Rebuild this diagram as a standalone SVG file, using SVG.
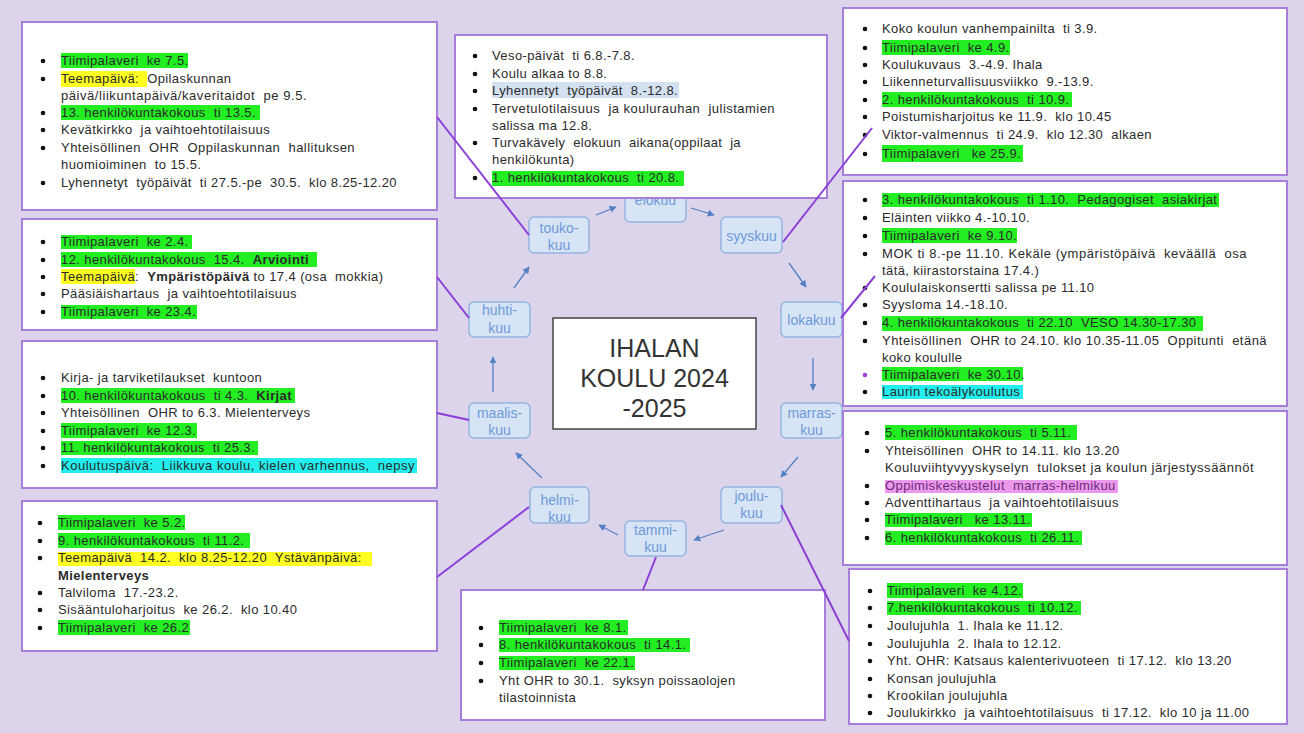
<svg xmlns="http://www.w3.org/2000/svg" width="1304" height="733" viewBox="0 0 1304 733" xml:space="preserve">
<defs>
<style>
.box{fill:#fff;stroke:#a77fdb;stroke-width:2}
.t{font-family:"Liberation Sans",Arial,sans-serif;font-size:13px;fill:#2b2b2b;letter-spacing:0.4px;white-space:pre}
.bd{font-weight:bold}
.g{fill:#22ee22}
.y{fill:#ffff22}
.c{fill:#22eeee}
.lb{fill:#d3e1f1}
.pk{fill:#ec98ec}
.dot{fill:#111}
.node{fill:#d6e4f6;stroke:#95b4e0;stroke-width:1.5}
.nt{font-family:"Liberation Sans",Arial,sans-serif;font-size:14px;fill:#6f9ad8;text-anchor:middle}
.conn{stroke:#8b3fd8;stroke-width:2;fill:none}
.arr{stroke:#5580c4;stroke-width:1.3;fill:none;marker-end:url(#ah)}
.ct{font-family:"Liberation Sans",Arial,sans-serif;font-size:25px;fill:#333;text-anchor:middle}
</style>
<marker id="ah" viewBox="0 0 10 10" refX="9" refY="5" markerWidth="7" markerHeight="7" orient="auto" markerUnits="userSpaceOnUse">
<path d="M0,0 L10,5 L0,10 z" fill="#5580c4"/>
</marker>
</defs>
<rect x="0" y="0" width="1304" height="733" fill="#dcd4ea"/>

<g id="months">
<g id="n-elokuu"><rect class="node" x="625" y="182" width="61" height="40" rx="5"/><text class="nt" x="655.5" y="205">elokuu</text></g>
<g id="n-syyskuu"><rect class="node" x="721" y="217" width="61" height="36" rx="5"/><text class="nt" x="751.5" y="241">syyskuu</text></g>
<g id="n-lokakuu"><rect class="node" x="781" y="302" width="61" height="35" rx="5"/><text class="nt" x="811.5" y="325">lokakuu</text></g>
<g id="n-marraskuu"><rect class="node" x="781" y="403" width="61" height="35" rx="5"/><text class="nt" x="811.5" y="418">marras-</text><text class="nt" x="811.5" y="435">kuu</text></g>
<g id="n-joulukuu"><rect class="node" x="721" y="487" width="61" height="36" rx="5"/><text class="nt" x="751.5" y="501">joulu-</text><text class="nt" x="751.5" y="518">kuu</text></g>
<g id="n-tammikuu"><rect class="node" x="625" y="521" width="61" height="35" rx="5"/><text class="nt" x="655.5" y="535">tammi-</text><text class="nt" x="655.5" y="552">kuu</text></g>
<g id="n-helmikuu"><rect class="node" x="530" y="487" width="59" height="36" rx="5"/><text class="nt" x="559.5" y="505">helmi-</text><text class="nt" x="559.5" y="522">kuu</text></g>
<g id="n-maaliskuu"><rect class="node" x="469" y="403" width="61" height="35" rx="5"/><text class="nt" x="499.5" y="418">maalis-</text><text class="nt" x="499.5" y="435">kuu</text></g>
<g id="n-huhtikuu"><rect class="node" x="469" y="302" width="61" height="35" rx="5"/><text class="nt" x="499.5" y="315">huhti-</text><text class="nt" x="499.5" y="333">kuu</text></g>
<g id="n-toukokuu"><rect class="node" x="529" y="217" width="60" height="36" rx="5"/><text class="nt" x="559" y="233">touko-</text><text class="nt" x="559" y="250">kuu</text></g>
</g>

<g id="arrows">
<line class="arr" x1="596" y1="215" x2="616" y2="207"/>
<line class="arr" x1="691" y1="208" x2="714" y2="215"/>
<line class="arr" x1="789" y1="263" x2="806" y2="287"/>
<line class="arr" x1="813" y1="358" x2="813" y2="390"/>
<line class="arr" x1="798" y1="457" x2="781" y2="477"/>
<line class="arr" x1="724" y1="530" x2="694" y2="540"/>
<line class="arr" x1="618" y1="535" x2="599" y2="525"/>
<line class="arr" x1="542" y1="478" x2="516" y2="453"/>
<line class="arr" x1="493" y1="392" x2="493" y2="357"/>
<line class="arr" x1="514" y1="288" x2="529" y2="267"/>
</g>

<g id="box-toukokuu">
<rect class="box" x="22" y="22" width="415" height="188"/>
<rect class="g" x="61" y="53" width="127" height="15"/>
<rect class="y" x="61" y="71" width="86" height="16"/>
<rect class="g" x="61" y="105" width="199" height="15"/>
<circle class="dot" cx="43" cy="61" r="2.3"/><circle class="dot" cx="43" cy="79" r="2.3"/><circle class="dot" cx="43" cy="113" r="2.3"/><circle class="dot" cx="43" cy="130" r="2.3"/><circle class="dot" cx="43" cy="148" r="2.3"/><circle class="dot" cx="43" cy="183" r="2.3"/>
<text class="t" x="61" y="65">Tiimipalaveri  ke 7.5.</text>
<text class="t" x="61" y="83">Teemapäivä:  Opilaskunnan</text>
<text class="t" x="61" y="100" textLength="246" lengthAdjust="spacing">päivä/liikuntapäivä/kaveritaidot  pe 9.5.</text>
<text class="t" x="61" y="117">13. henkilökuntakokous  ti 13.5.</text>
<text class="t" x="61" y="134">Kevätkirkko  ja vaihtoehtotilaisuus</text>
<text class="t" x="61" y="152" textLength="294" lengthAdjust="spacing">Yhteisöllinen  OHR  Oppilaskunnan  hallituksen</text>
<text class="t" x="61" y="169">huomioiminen  to 15.5.</text>
<text class="t" x="61" y="187">Lyhennetyt  työpäivät  ti 27.5.-pe  30.5.  klo 8.25-12.20</text>
</g>

<g id="box-elokuu">
<rect class="box" x="455" y="35" width="372" height="163"/>
<rect class="lb" x="492" y="82" width="187" height="16"/>
<rect class="g" x="492" y="171" width="192" height="15"/>
<circle class="dot" cx="475" cy="56" r="2.3"/><circle class="dot" cx="475" cy="74" r="2.3"/><circle class="dot" cx="475" cy="91" r="2.3"/><circle class="dot" cx="475" cy="109" r="2.3"/><circle class="dot" cx="475" cy="143" r="2.3"/><circle class="dot" cx="475" cy="178" r="2.3"/>
<text class="t" x="492" y="60">Veso-päivät  ti 6.8.-7.8.</text>
<text class="t" x="492" y="78">Koulu alkaa to 8.8.</text>
<text class="t" x="492" y="95">Lyhennetyt  työpäivät  8.-12.8.</text>
<text class="t" x="492" y="113" textLength="283" lengthAdjust="spacing">Tervetulotilaisuus  ja koulurauhan  julistamien</text>
<text class="t" x="492" y="130">salissa ma 12.8.</text>
<text class="t" x="492" y="147" textLength="249" lengthAdjust="spacing">Turvakävely  elokuun  aikana(oppilaat  ja</text>
<text class="t" x="492" y="164">henkilökunta)</text>
<text class="t" x="492" y="182">1. henkilökuntakokous  ti 20.8.</text>
</g>

<g id="box-syyskuu">
<rect class="box" x="843" y="8" width="444" height="167"/>
<rect class="g" x="882" y="40" width="128" height="15"/>
<rect class="g" x="882" y="92" width="190" height="15"/>
<rect class="g" x="882" y="145" width="141" height="17"/>
<circle class="dot" cx="865" cy="29" r="2.3"/><circle class="dot" cx="865" cy="48" r="2.3"/><circle class="dot" cx="865" cy="65" r="2.3"/><circle class="dot" cx="865" cy="82" r="2.3"/><circle class="dot" cx="865" cy="100" r="2.3"/><circle class="dot" cx="865" cy="117" r="2.3"/><circle class="dot" cx="865" cy="135" r="2.3"/><circle class="dot" cx="865" cy="154" r="2.3"/>
<text class="t" x="882" y="33">Koko koulun vanhempainilta  ti 3.9.</text>
<text class="t" x="882" y="52">Tiimipalaveri  ke 4.9.</text>
<text class="t" x="882" y="69">Koulukuvaus  3.-4.9. Ihala</text>
<text class="t" x="882" y="86">Liikenneturvallisuusviikko  9.-13.9.</text>
<text class="t" x="882" y="104">2. henkilökuntakokous  ti 10.9.</text>
<text class="t" x="882" y="121">Poistumisharjoitus ke 11.9.  klo 10.45</text>
<text class="t" x="882" y="139">Viktor-valmennus  ti 24.9.  klo 12.30  alkaen</text>
<text class="t" x="882" y="158">Tiimipalaveri   ke 25.9.</text>
</g>

<g id="box-huhtikuu">
<rect class="box" x="22" y="219" width="415" height="111"/>
<rect class="g" x="61" y="235" width="131" height="14"/>
<rect class="g" x="61" y="252" width="256" height="15"/>
<rect class="y" x="61" y="269" width="74" height="15"/>
<rect class="g" x="61" y="305" width="136" height="14"/>
<circle class="dot" cx="43" cy="242" r="2.3"/><circle class="dot" cx="43" cy="260" r="2.3"/><circle class="dot" cx="43" cy="277" r="2.3"/><circle class="dot" cx="43" cy="294" r="2.3"/><circle class="dot" cx="43" cy="312" r="2.3"/>
<text class="t" x="61" y="246">Tiimipalaveri  ke 2.4.</text>
<text class="t" x="61" y="264">12. henkilökuntakokous  15.4.  <tspan class="bd">Arviointi</tspan></text>
<text class="t" x="61" y="281">Teemapäivä:  <tspan class="bd">Ympäristöpäivä</tspan> to 17.4 (osa  mokkia)</text>
<text class="t" x="61" y="298">Pääsiäishartaus  ja vaihtoehtotilaisuus</text>
<text class="t" x="61" y="316">Tiimipalaveri  ke 23.4.</text>
</g>

<g id="box-lokakuu">
<rect class="box" x="843" y="181" width="444" height="225"/>
<rect class="g" x="882" y="193" width="337" height="14"/>
<rect class="g" x="882" y="228" width="135" height="15"/>
<rect class="g" x="882" y="316" width="321" height="15"/>
<rect class="g" x="882" y="367" width="141" height="14"/>
<rect class="c" x="882" y="385" width="141" height="14"/>
<circle class="dot" cx="865" cy="200" r="2.3"/><circle class="dot" cx="865" cy="218" r="2.3"/><circle class="dot" cx="865" cy="236" r="2.3"/><circle class="dot" cx="865" cy="254" r="2.3"/><circle class="dot" cx="865" cy="288" r="2.3"/><circle class="dot" cx="865" cy="305" r="2.3"/><circle class="dot" cx="865" cy="323" r="2.3"/><circle class="dot" cx="865" cy="341" r="2.3"/><circle cx="865" cy="375" r="2.3" fill="#9a3fe0"/><circle class="dot" cx="865" cy="392" r="2.3"/>
<text class="t" x="882" y="204">3. henkilökuntakokous  ti 1.10.  Pedagogiset  asiakirjat</text>
<text class="t" x="882" y="222">Eläinten viikko 4.-10.10.</text>
<text class="t" x="882" y="240">Tiimipalaveri  ke 9.10.</text>
<text class="t" x="882" y="258" textLength="365" lengthAdjust="spacing">MOK ti 8.-pe 11.10. Kekäle (ympäristöpäivä  keväällä  osa</text>
<text class="t" x="882" y="275">tätä, kiirastorstaina 17.4.)</text>
<text class="t" x="882" y="292">Koululaiskonsertti salissa pe 11.10</text>
<text class="t" x="882" y="309">Syysloma 14.-18.10.</text>
<text class="t" x="882" y="327">4. henkilökuntakokous  ti 22.10  VESO 14.30-17.30</text>
<text class="t" x="882" y="345" textLength="385" lengthAdjust="spacing">Yhteisöllinen  OHR to 24.10. klo 10.35-11.05  Oppitunti  etänä</text>
<text class="t" x="882" y="362">koko koululle</text>
<text class="t" x="882" y="379">Tiimipalaveri  ke 30.10.</text>
<text class="t" x="882" y="396">Laurin tekoälykoulutus</text>
</g>

<g id="box-maaliskuu">
<rect class="box" x="22" y="341" width="415" height="147"/>
<rect class="g" x="61" y="388" width="234" height="15"/>
<rect class="g" x="61" y="423" width="136" height="15"/>
<rect class="g" x="61" y="441" width="197" height="14"/>
<rect class="c" x="61" y="458" width="356" height="15"/>
<circle class="dot" cx="43" cy="378" r="2.3"/><circle class="dot" cx="43" cy="396" r="2.3"/><circle class="dot" cx="43" cy="413" r="2.3"/><circle class="dot" cx="43" cy="431" r="2.3"/><circle class="dot" cx="43" cy="448" r="2.3"/><circle class="dot" cx="43" cy="466" r="2.3"/>
<text class="t" x="61" y="382">Kirja- ja tarviketilaukset  kuntoon</text>
<text class="t" x="61" y="400">10. henkilökuntakokous  ti 4.3.  <tspan class="bd">Kirjat</tspan></text>
<text class="t" x="61" y="417">Yhteisöllinen  OHR to 6.3. Mielenterveys</text>
<text class="t" x="61" y="435">Tiimipalaveri  ke 12.3.</text>
<text class="t" x="61" y="452">11. henkilökuntakokous  ti 25.3.</text>
<text class="t" x="61" y="470" textLength="354" lengthAdjust="spacing">Koulutuspäivä:  Liikkuva koulu, kielen varhennus,  nepsy</text>
</g>

<g id="box-marraskuu">
<rect class="box" x="843" y="411" width="444" height="154"/>
<rect class="g" x="885" y="425" width="192" height="15"/>
<rect class="pk" x="885" y="480" width="233" height="13"/>
<rect class="g" x="885" y="513" width="147" height="14"/>
<rect class="g" x="885" y="531" width="197" height="14"/>
<circle class="dot" cx="867" cy="433" r="2.3"/><circle class="dot" cx="867" cy="451" r="2.3"/><circle class="dot" cx="867" cy="486" r="2.3"/><circle class="dot" cx="867" cy="503" r="2.3"/><circle class="dot" cx="867" cy="520" r="2.3"/><circle class="dot" cx="867" cy="538" r="2.3"/>
<text class="t" x="885" y="437">5. henkilökuntakokous  ti 5.11.</text>
<text class="t" x="885" y="455">Yhteisöllinen  OHR to 14.11. klo 13.20</text>
<text class="t" x="885" y="472" textLength="369" lengthAdjust="spacing">Kouluviihtyvyyskyselyn  tulokset ja koulun järjestyssäännöt</text>
<text class="t" x="885" y="490" style="fill:#6b2c7c">Oppimiskeskustelut  marras-helmikuu</text>
<text class="t" x="885" y="507">Adventtihartaus  ja vaihtoehtotilaisuus</text>
<text class="t" x="885" y="524">Tiimipalaveri   ke 13.11.</text>
<text class="t" x="885" y="542">6. henkilökuntakokous  ti 26.11.</text>
</g>

<g id="box-helmikuu">
<rect class="box" x="22" y="501" width="415" height="150"/>
<rect class="g" x="58" y="515" width="127" height="15"/>
<rect class="g" x="58" y="533" width="192" height="15"/>
<rect class="y" x="58" y="552" width="314" height="14"/>
<rect class="g" x="58" y="620" width="132" height="15"/>
<circle class="dot" cx="40" cy="523" r="2.3"/><circle class="dot" cx="40" cy="541" r="2.3"/><circle class="dot" cx="40" cy="558" r="2.3"/><circle class="dot" cx="40" cy="593" r="2.3"/><circle class="dot" cx="40" cy="610" r="2.3"/><circle class="dot" cx="40" cy="628" r="2.3"/>
<text class="t" x="58" y="527">Tiimipalaveri  ke 5.2.</text>
<text class="t" x="58" y="545">9. henkilökuntakokous  ti 11.2.</text>
<text class="t" x="58" y="562">Teemapäivä  14.2.  klo 8.25-12.20  Ystävänpäivä:</text>
<text class="t bd" x="58" y="580">Mielenterveys</text>
<text class="t" x="58" y="597">Talviloma  17.-23.2.</text>
<text class="t" x="58" y="614">Sisääntuloharjoitus  ke 26.2.  klo 10.40</text>
<text class="t" x="58" y="632">Tiimipalaveri  ke 26.2</text>
</g>

<g id="box-tammikuu">
<rect class="box" x="461" y="590" width="364" height="130"/>
<rect class="g" x="499" y="620" width="129" height="15"/>
<rect class="g" x="499" y="638" width="191" height="14"/>
<rect class="g" x="499" y="656" width="136" height="14"/>
<circle class="dot" cx="481" cy="628" r="2.3"/><circle class="dot" cx="481" cy="645" r="2.3"/><circle class="dot" cx="481" cy="663" r="2.3"/><circle class="dot" cx="481" cy="681" r="2.3"/>
<text class="t" x="499" y="632">Tiimipalaveri  ke 8.1.</text>
<text class="t" x="499" y="649">8. henkilökuntakokous  ti 14.1.</text>
<text class="t" x="499" y="667">Tiimipalaveri  ke 22.1.</text>
<text class="t" x="499" y="685">Yht OHR to 30.1.  syksyn poissaolojen</text>
<text class="t" x="499" y="702">tilastoinnista</text>
</g>

<g id="box-joulukuu">
<rect class="box" x="849" y="569" width="438" height="155"/>
<rect class="g" x="887" y="583" width="136" height="15"/>
<rect class="g" x="887" y="601" width="194" height="14"/>
<circle class="dot" cx="870" cy="591" r="2.3"/><circle class="dot" cx="870" cy="608" r="2.3"/><circle class="dot" cx="870" cy="626" r="2.3"/><circle class="dot" cx="870" cy="644" r="2.3"/><circle class="dot" cx="870" cy="661" r="2.3"/><circle class="dot" cx="870" cy="679" r="2.3"/><circle class="dot" cx="870" cy="696" r="2.3"/><circle class="dot" cx="870" cy="713" r="2.3"/>
<text class="t" x="887" y="595">Tiimipalaveri  ke 4.12.</text>
<text class="t" x="887" y="612">7.henkilökuntakokous  ti 10.12.</text>
<text class="t" x="887" y="630">Joulujuhla  1. Ihala ke 11.12.</text>
<text class="t" x="887" y="648">Joulujuhla  2. Ihala to 12.12.</text>
<text class="t" x="887" y="665">Yht. OHR: Katsaus kalenterivuoteen  ti 17.12.  klo 13.20</text>
<text class="t" x="887" y="683">Konsan joulujuhla</text>
<text class="t" x="887" y="700">Krookilan joulujuhla</text>
<text class="t" x="887" y="717">Joulukirkko  ja vaihtoehtotilaisuus  ti 17.12.  klo 10 ja 11.00</text>
</g>

<g id="center">
<rect x="553" y="318" width="203" height="111" fill="#fff" stroke="#444" stroke-width="1.5"/>
<text class="ct" x="654.5" y="357">IHALAN</text>
<text class="ct" x="654.5" y="387">KOULU 2024</text>
<text class="ct" x="654.5" y="417">-2025</text>
</g>

<g id="connectors">
<line class="conn" x1="529" y1="235" x2="437" y2="117"/>
<line class="conn" x1="783" y1="242" x2="872" y2="128"/>
<line class="conn" x1="841" y1="318" x2="875" y2="276"/>
<line class="conn" x1="781" y1="505" x2="849" y2="641"/>
<line class="conn" x1="656" y1="557" x2="643" y2="590"/>
<line class="conn" x1="529" y1="507" x2="437" y2="577"/>
<line class="conn" x1="469" y1="420" x2="437" y2="413"/>
<line class="conn" x1="469" y1="318" x2="437" y2="277"/>
</g>
</svg>
